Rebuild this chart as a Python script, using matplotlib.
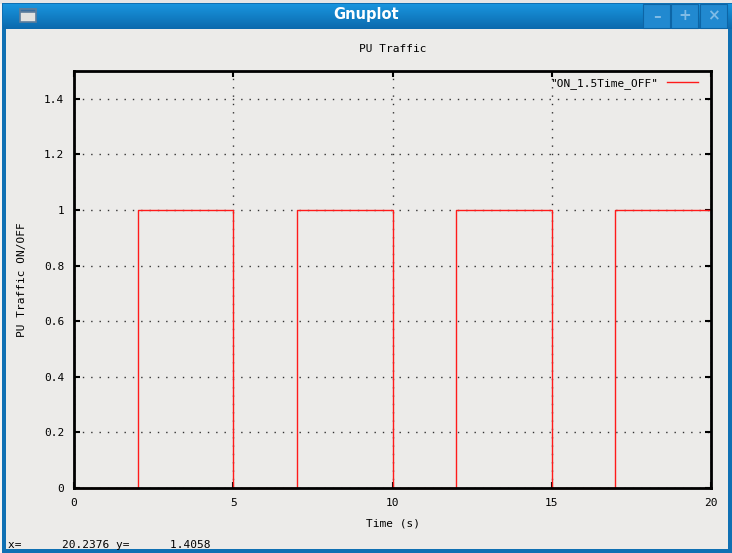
import numpy as np
import matplotlib
matplotlib.use("Agg")
import matplotlib.pyplot as plt
from matplotlib.patches import Rectangle

# PU traffic switching schedule: time instants (s) and ON/OFF state held after each instant
switch_times = [0, 2, 5, 7, 10, 12, 15, 17, 20]
onoff_state = [0, 1, 0, 1, 0, 1, 0, 1, 1]
series_label = '"ON_1.5Time_OFF"'
x_ticks = [0, 5, 10, 15, 20]
y_ticks = [0, 0.2, 0.4, 0.6, 0.8, 1.0, 1.2, 1.4]
y_tick_labels = ["0", "0.2", "0.4", "0.6", "0.8", "1", "1.2", "1.4"]
status_text = "x=      20.2376 y=      1.4058"

W, H = 732, 553
BG = "#ecebe9"
MONO = "DejaVu Sans Mono"

fig = plt.figure(figsize=(W / 100, H / 100), dpi=100)
fig.patch.set_facecolor("#f4f4f4")

# ---- window frame drawn in pixel coordinates ----
frame = fig.add_axes([0, 0, 1, 1], zorder=0)
frame.set_xlim(0, W)
frame.set_ylim(H, 0)
frame.axis("off")

# strip of the desktop behind the window
frame.add_patch(Rectangle((0, 0), W, 4, color="#e6e6e6", lw=0))
# blue window border
frame.add_patch(Rectangle((2, 3), W - 2, H - 3, color="#0f70b3", lw=0))
# title bar gradient
grad = np.linspace(0, 1, 64).reshape(-1, 1)
cmap = matplotlib.colors.LinearSegmentedColormap.from_list("tb", ["#1995de", "#0b69ad"])
frame.imshow(grad, extent=(3, W, 29, 4), cmap=cmap, aspect="auto", zorder=1)
# client area
frame.add_patch(Rectangle((6, 29), W - 10, H - 33, color=BG, lw=0, zorder=2))
# window icon
frame.add_patch(Rectangle((20, 9), 16, 13, facecolor="#e2e2e0", edgecolor="#5c7d9c", lw=1.2, zorder=3))
frame.add_patch(Rectangle((20, 9), 16, 3, facecolor="#3b6e9e", edgecolor="#5c7d9c", lw=1.2, zorder=3))
frame.text(366, 15, "Gnuplot", color="white", fontsize=10.5, fontweight="bold",
           family="DejaVu Sans", ha="center", va="center", zorder=3)
# window buttons
for x0, sym in [(643, "\u2013"), (671, "+"), (700, "\u00d7")]:
    frame.add_patch(Rectangle((x0, 4), 27, 24, facecolor="#2189d0", edgecolor="#0d65a6", lw=0.8, zorder=3))
    frame.text(x0 + 13.5, 16, sym, color="#7fbbe6", fontsize=11, fontweight="bold",
               ha="center", va="center", zorder=4)
# status line
frame.text(8, 545, status_text, family=MONO, fontsize=8, color="black",
           ha="left", va="center", zorder=3)

# ---- plot ----
ax = fig.add_axes([74 / W, 1 - 488 / H, (711 - 74) / W, (488 - 71) / H], zorder=2)
ax.set_facecolor(BG)
ax.step(switch_times, onoff_state, where="post", color="#ff1a1a", lw=1.0,
        label=series_label, zorder=2.2, clip_on=False)

ax.set_xlim(0, 20)
ax.set_ylim(0, 1.5)
ax.set_xticks(x_ticks)
ax.set_xticklabels([str(t) for t in x_ticks])
ax.set_yticks(y_ticks)
ax.set_yticklabels(y_tick_labels)
ax.tick_params(direction="in", length=4, width=1.5, top=True, right=True,
               labelsize=8, pad=7)
for lbl in ax.get_xticklabels() + ax.get_yticklabels():
    lbl.set_family(MONO)
for sp in ax.spines.values():
    sp.set_linewidth(2)
    sp.set_color("black")
    sp.set_zorder(2.5)

ax.grid(True, color="#333333", linestyle=(0, (1, 5)), linewidth=1.0)
ax.set_axisbelow(True)

ax.set_title("PU Traffic", family=MONO, fontsize=8, pad=13.5)
ax.set_xlabel("Time (s)", family=MONO, fontsize=8, labelpad=8)
ax.set_ylabel("PU Traffic ON/OFF", family=MONO, fontsize=8, labelpad=12)

leg = ax.legend(loc="upper right", bbox_to_anchor=(1.0, 1.0 + 6 / 417),
                frameon=False, markerfirst=False,
                prop={"family": MONO, "size": 8}, handlelength=2.8,
                handletextpad=0.8, borderaxespad=0.8)
for ln in leg.get_lines():
    ln.set_linewidth(1.0)

fig.savefig("out.png", dpi=100, facecolor=fig.get_facecolor())
